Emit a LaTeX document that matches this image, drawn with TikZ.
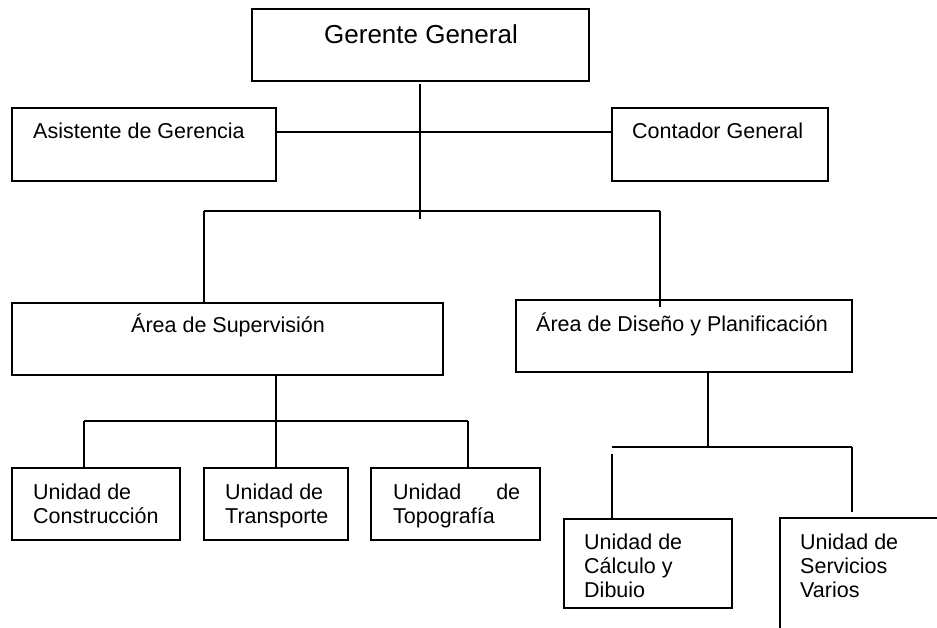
\documentclass[tikz,border=0pt]{standalone}
\usepackage{fontspec}
\setmainfont{Liberation Sans}
\begin{document}
\begin{tikzpicture}[x=1pt,y=-1pt,
  box/.style={draw=black,line width=1.4pt,inner sep=0pt,outer sep=0pt,anchor=north west},
  wire/.style={draw=black,line width=1.4pt},
  lbl/.style={anchor=base west,inner sep=0pt,font=\fontsize{21.5}{24}\selectfont},
  lblc/.style={anchor=base,inner sep=0pt,font=\fontsize{21.5}{24}\selectfont}]
\useasboundingbox (0,0) rectangle (937,628);
\clip (0,0) rectangle (937,628);
% boxes
\node[box,minimum width=337pt,minimum height=72pt] (gg) at (252,9) {};
\node[box,minimum width=264pt,minimum height=73pt] (as) at (12,108) {};
\node[box,minimum width=216pt,minimum height=73pt] (cg) at (612,108) {};
\node[box,minimum width=431pt,minimum height=72pt] (sup) at (12,303) {};
\node[box,minimum width=336pt,minimum height=72pt] (dis) at (516,300) {};
\node[box,minimum width=168pt,minimum height=72pt] (uc) at (12,468) {};
\node[box,minimum width=144pt,minimum height=72pt] (ut) at (204,468) {};
\node[box,minimum width=169pt,minimum height=72pt] (utp) at (371,468) {};
\node[box,minimum width=168pt,minimum height=89pt] (ucd) at (564,519) {};
\node[box,minimum width=200pt,minimum height=160pt] (usv) at (780,518) {};
% texts
\node[anchor=base,inner sep=0pt,font=\fontsize{26}{30}\selectfont] (ggt) at (421,44) {Gerente General};
\node[lbl] (ast) at (33,139) {Asistente de Gerencia};
\node[lbl] (cgt) at (632,139) {Contador General};
\node[lblc] (supt) at (228,333) {Área de Supervisión};
\node[lbl] (dist) at (536,331) {Área de Diseño y Planificación};
\node[lbl] (uct1) at (33,499) {Unidad de};
\node[lbl] (uct2) at (33,523) {Construcción};
\node[lbl] (utt1) at (225,499) {Unidad de};
\node[lbl] (utt2) at (225,523) {Transporte};
\node[lbl] (utpt1) at (393,499) {\makebox[127pt][s]{Unidad\hfill de}};
\node[lbl] (utpt2) at (393,523) {Topografía};
\node[lbl] (ucdt1) at (584,549) {Unidad de};
\node[lbl] (ucdt2) at (584,573) {Cálculo y};
\node[lbl] (ucdt3) at (584,597) {Dibuio};
\node[lbl] (usvt1) at (800,549) {Unidad de};
\node[lbl] (usvt2) at (800,573) {Servicios};
\node[lbl] (usvt3) at (800,597) {Varios};
% junction coordinates
\coordinate (j1) at (420,211);
\coordinate (j1e) at (420,219);
\coordinate (h1) at (420,132);
\coordinate (lj) at (204,211);
\coordinate (rj) at (660,211);
\coordinate (rje) at (660,307);
\coordinate (s1) at (276,421);
\coordinate (sl) at (84,421);
\coordinate (sr) at (468,421);
\coordinate (d1) at (708,447);
\coordinate (dl) at (612,447);
\coordinate (dls) at (612,454);
\coordinate (dr) at (852,447);
\coordinate (dre) at (852,512);
% connectors
\draw[wire] ([yshift=-3pt]gg.south -| j1) -- (j1e);
\draw[wire] (as.east |- h1) -- (cg.west |- h1);
\draw[wire] (lj) -- (rj);
\draw[wire] (lj) -- (lj |- sup.north);
\draw[wire] (rj) -- (rje);
\draw[wire] (sup.south -| s1) -- (ut.north);
\draw[wire] (sl) -- (sr);
\draw[wire] (sl) -- (sl |- uc.north);
\draw[wire] (sr) -- (sr |- utp.north);
\draw[wire] (dis.south -| d1) -- (d1);
\draw[wire] (dl) -- (dr);
\draw[wire] (dls) -- (dls |- ucd.north);
\draw[wire] (dr) -- (dre);
\end{tikzpicture}
\end{document}
